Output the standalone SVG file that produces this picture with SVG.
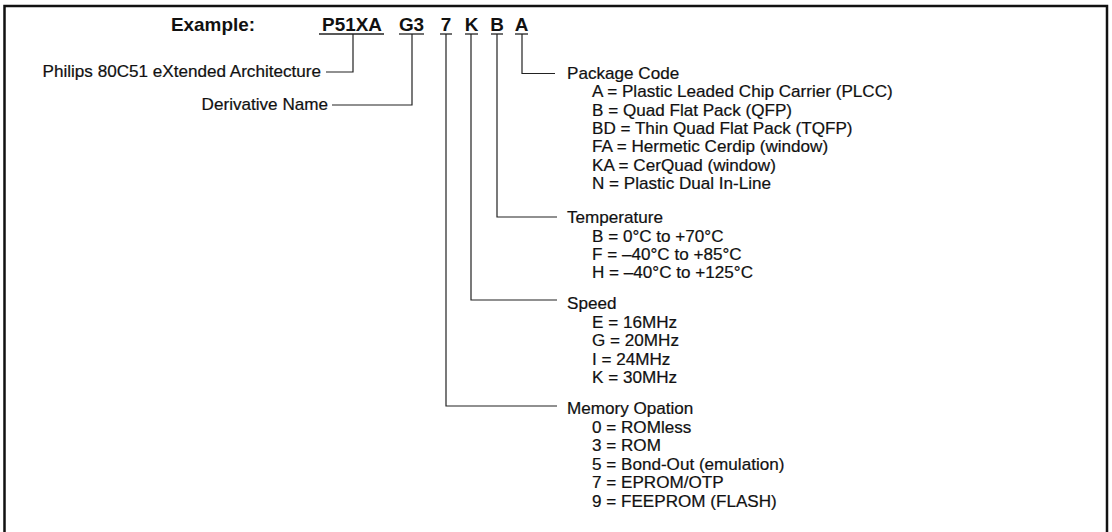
<svg xmlns="http://www.w3.org/2000/svg" width="1112" height="532" viewBox="0 0 1112 532">
<style>
.b{font-family:"Liberation Sans",Arial,sans-serif;font-size:17.5px;font-weight:bold;fill:#111}
.t{font-family:"Liberation Sans",Arial,sans-serif;font-size:16px;fill:#111;stroke:#111;stroke-width:0.2}
.e{text-anchor:end}
.m{text-anchor:middle}
.ln{fill:none;stroke:#222;stroke-width:1.2}
.ul{stroke:#222;stroke-width:1.3}
</style>
<rect width="1112" height="532" fill="#fff"/>
<path d="M4.5,540 V6 H1107 V540" fill="none" stroke="#111" stroke-width="2.5"/>
<g id="header">
<text class="b e" transform="translate(255 31) scale(1.08 1)">Example:</text>
<text class="b m" transform="translate(352 31) scale(1.08 1)">P51XA</text>
<text class="b m" transform="translate(411.5 31) scale(1.08 1)">G3</text>
<text class="b m" transform="translate(446 31) scale(1.08 1)">7</text>
<text class="b m" transform="translate(471.5 31) scale(1.08 1)">K</text>
<text class="b m" transform="translate(497 31) scale(1.08 1)">B</text>
<text class="b m" transform="translate(521.5 31) scale(1.08 1)">A</text>
<line class="ul" x1="319" y1="34" x2="384" y2="34"/>
<line class="ul" x1="399" y1="34" x2="424" y2="34"/>
<line class="ul" x1="440" y1="34" x2="452" y2="34"/>
<line class="ul" x1="465" y1="34" x2="478" y2="34"/>
<line class="ul" x1="491" y1="34" x2="503" y2="34"/>
<line class="ul" x1="515" y1="34" x2="528" y2="34"/>
</g>
<g id="connectors">
<path class="ln" d="M353,34 V72 H326"/>
<path class="ln" d="M412,34 V105 H332"/>
<path class="ln" d="M522,34 V73.5 H555"/>
<path class="ln" d="M497,34 V217 H557"/>
<path class="ln" d="M471,34 V300 H557"/>
<path class="ln" d="M446,34 V406 H557"/>
</g>
<g id="arch">
<text class="t e" transform="translate(321 77) scale(1.07 1)">Philips 80C51 eXtended Architecture</text>
</g>
<g id="derivative">
<text class="t e" transform="translate(328 110) scale(1.07 1)">Derivative Name</text>
</g>
<g id="package">
<text class="t" transform="translate(567 79) scale(1.07 1)">Package Code</text>
<text class="t" transform="translate(592 97.3) scale(1.07 1)">A = Plastic Leaded Chip Carrier (PLCC)</text>
<text class="t" transform="translate(592 115.6) scale(1.07 1)">B = Quad Flat Pack (QFP)</text>
<text class="t" transform="translate(592 134) scale(1.07 1)">BD = Thin Quad Flat Pack (TQFP)</text>
<text class="t" transform="translate(592 152.3) scale(1.07 1)">FA = Hermetic Cerdip (window)</text>
<text class="t" transform="translate(592 170.6) scale(1.07 1)">KA = CerQuad (window)</text>
<text class="t" transform="translate(592 189) scale(1.07 1)">N = Plastic Dual In-Line</text>
</g>
<g id="temperature">
<text class="t" transform="translate(567 223.3) scale(1.07 1)">Temperature</text>
<text class="t" transform="translate(592 241.6) scale(1.07 1)">B = 0°C to +70°C</text>
<text class="t" transform="translate(592 260) scale(1.07 1)">F = –40°C to +85°C</text>
<text class="t" transform="translate(592 278.3) scale(1.07 1)">H = –40°C to +125°C</text>
</g>
<g id="speed">
<text class="t" transform="translate(567 309) scale(1.07 1)">Speed</text>
<text class="t" transform="translate(592 327.5) scale(1.07 1)">E = 16MHz</text>
<text class="t" transform="translate(592 346) scale(1.07 1)">G = 20MHz</text>
<text class="t" transform="translate(592 364.5) scale(1.07 1)">I = 24MHz</text>
<text class="t" transform="translate(592 383) scale(1.07 1)">K = 30MHz</text>
</g>
<g id="memory">
<text class="t" transform="translate(567 414) scale(1.07 1)">Memory Opation</text>
<text class="t" transform="translate(592 432.5) scale(1.07 1)">0 = ROMless</text>
<text class="t" transform="translate(592 451) scale(1.07 1)">3 = ROM</text>
<text class="t" transform="translate(592 469.5) scale(1.07 1)">5 = Bond-Out (emulation)</text>
<text class="t" transform="translate(592 488) scale(1.07 1)">7 = EPROM/OTP</text>
<text class="t" transform="translate(592 506.5) scale(1.07 1)">9 = FEEPROM (FLASH)</text>
</g>
</svg>
